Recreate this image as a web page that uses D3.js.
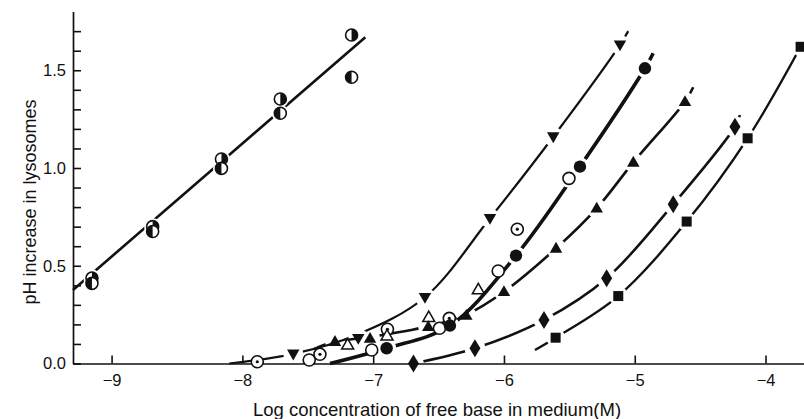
<!DOCTYPE html>
<html><head><meta charset="utf-8">
<script src="https://cdn.jsdelivr.net/npm/d3@7"></script>
<style>body{margin:0;background:#fff} svg{display:block}</style>
</head><body>
<svg id="c" width="804" height="419"></svg>
<script>
// ---- data ----
const xTickValues = [-9, -8, -7, -6, -5, -4];
const xTickLabels = ["\u22129", "\u22128", "\u22127", "\u22126", "\u22125", "\u22124"];
const yTickValues = [0, 0.1, 0.2, 0.3, 0.4, 0.5, 0.6, 0.7, 0.8, 0.9, 1.0, 1.1, 1.2, 1.3, 1.4, 1.5, 1.6, 1.7];
const yTickLabels = {"0": "0.0", "0.5": "0.5", "1": "1.0", "1.5": "1.5"};

// half-filled circles (two sets)
const halfRightX = [-9.15, -8.686, -8.16, -7.71, -7.165];
const halfRightY = [0.437, 0.70, 1.046, 1.353, 1.68];
const halfLeftX  = [-9.15, -8.686, -8.16, -7.71, -7.165];
const halfLeftY  = [0.41, 0.675, 0.998, 1.28, 1.464];
const halfLine   = [[-9.295, 0.376], [-7.06, 1.669]];

// inverted filled triangles
const triDownX = [-7.611, -7.114, -6.604, -6.107, -5.623, -5.113];
const triDownY = [0.049, 0.129, 0.339, 0.743, 1.160, 1.630];
const triDownCurve = [[-8.1, 0.0], [-7.611, 0.049], [-7.114, 0.15], [-6.604, 0.339], [-6.107, 0.743], [-5.623, 1.160], [-5.113, 1.630], [-5.05, 1.70]];

// filled circles
const dotX = [-6.897, -6.413, -5.908, -5.419, -4.922];
const dotY = [0.078, 0.194, 0.552, 1.007, 1.510];
const dotCurve = [[-7.33, 0.0], [-6.897, 0.078], [-6.413, 0.194], [-5.908, 0.552], [-5.419, 1.007], [-4.922, 1.510], [-4.859, 1.587]];

// open circles
const openX = [-7.489, -7.011, -6.493, -6.044, -5.503];
const openY = [0.018, 0.069, 0.180, 0.473, 0.947];

// dotted circles
const dottedX = [-7.886, -7.407, -6.891, -6.418, -5.898];
const dottedY = [0.009, 0.047, 0.175, 0.231, 0.687];

// open triangles
const triOpenX = [-7.195, -6.894, -6.575, -6.196];
const triOpenY = [0.095, 0.141, 0.236, 0.378];

// filled triangles
const triX = [-7.292, -7.024, -6.579, -6.288, -6.0, -5.602, -5.291, -5.011, -4.616];
const triY = [0.112, 0.128, 0.188, 0.246, 0.367, 0.589, 0.794, 1.029, 1.339];
const triCurve = [[-7.45, 0.075], [-7.292, 0.112], [-7.024, 0.135], [-6.579, 0.19], [-6.288, 0.25], [-6.0, 0.367], [-5.602, 0.589], [-5.291, 0.794], [-5.011, 1.029], [-4.616, 1.339], [-4.553, 1.413]];

// diamonds
const diaX = [-6.692, -6.222, -5.694, -5.215, -4.706, -4.234];
const diaY = [0.0, 0.078, 0.223, 0.436, 0.814, 1.211];
const diaCurve = [[-6.692, 0.0], [-6.222, 0.078], [-5.694, 0.223], [-5.215, 0.436], [-4.706, 0.814], [-4.234, 1.211], [-4.196, 1.271]];

// squares
const sqX = [-5.605, -5.126, -4.603, -4.137, -3.732];
const sqY = [0.132, 0.345, 0.726, 1.152, 1.620];
const sqCurve = [[-5.763, 0.069], [-5.605, 0.132], [-5.126, 0.345], [-4.603, 0.726], [-4.137, 1.152], [-3.732, 1.620]];

const xTitle = "Log concentration of free base in medium(M)";
const yTitle = "pH increase in lysosomes";

// ---- drawing ----
const svg = d3.select("#c");
const FONT = "'Liberation Sans', Arial, sans-serif";
const x = d3.scaleLinear().domain([-9.295, -3.706]).range([73, 804]);
const y = d3.scaleLinear().domain([0, 1.8]).range([363.5, 11.6]);
const zip = (a, b) => a.map((v, i) => [v, b[i]]);

const defs = svg.append("defs");
function makeMask(id, pts, r) {
  const m = defs.append("mask").attr("id", id).attr("maskUnits", "userSpaceOnUse")
    .attr("x", 0).attr("y", 0).attr("width", 804).attr("height", 419);
  m.append("rect").attr("width", 804).attr("height", 419).attr("fill", "#fff");
  m.selectAll("circle").data(pts).join("circle")
    .attr("cx", d => x(d[0])).attr("cy", d => y(d[1])).attr("r", r).attr("fill", "#000");
  return "url(#" + id + ")";
}

// axes
const xAxis = d3.axisBottom(x).tickValues(xTickValues).tickSize(-8).tickSizeOuter(0).tickPadding(11)
  .tickFormat((d, i) => xTickLabels[i]);
const gx = svg.append("g").attr("transform", `translate(0,${y(0)})`).call(xAxis);
const yAxis = d3.axisLeft(y).tickValues(yTickValues).tickSize(-8).tickSizeOuter(0).tickPadding(7)
  .tickFormat(d => yTickLabels[String(+d.toFixed(1))] || "");
const gy = svg.append("g").attr("transform", `translate(${x(-9.295)},0)`).call(yAxis);
[gx, gy].forEach(g => {
  g.select(".domain").attr("stroke", "#111").attr("stroke-width", 1.7);
  g.selectAll(".tick line").attr("stroke", "#111").attr("stroke-width", 1.6);
  g.selectAll(".tick text").attr("fill", "#111").style("font-family", FONT).style("font-size", "16.5px");
});

// curves
const line = d3.line().x(d => x(d[0])).y(d => y(d[1])).curve(d3.curveCatmullRom.alpha(0.5));
const curves = [
  {pts: halfLine, w: 2.6, mask: zip(halfRightX, halfRightY).concat(zip(halfLeftX, halfLeftY)), r: 8.5},
  {pts: triDownCurve, w: 2.2, mask: zip(triDownX, triDownY), r: 10},
  {pts: dotCurve, w: 3.6, mask: zip(dotX, dotY).concat(zip(openX, openY).slice(4)), r: 9.5},
  {pts: triCurve, w: 2.6, mask: zip(triX, triY), r: 10},
  {pts: diaCurve, w: 2.5, mask: zip(diaX, diaY), r: 10.5},
  {pts: sqCurve, w: 2.4, mask: zip(sqX, sqY), r: 9.5}
];
curves.forEach((c, i) => {
  svg.append("path").attr("d", line(c.pts)).attr("fill", "none").attr("stroke", "#111")
    .attr("stroke-width", c.w).attr("stroke-linecap", "butt")
    .attr("mask", makeMask("m" + i, c.mask, c.r));
});

// markers
const K = "#111";
function halfCircle(g, px, py, side) {
  const r = 6;
  g.append("circle").attr("cx", px).attr("cy", py).attr("r", r).attr("fill", "#fff").attr("stroke", K).attr("stroke-width", 1.6);
  const sweep = side === "right" ? 1 : 0;
  g.append("path").attr("d", `M${px},${py - r} A${r},${r} 0 0 ${sweep} ${px},${py + r} Z`).attr("fill", K);
}
const gm = svg.append("g");
zip(halfRightX, halfRightY).forEach(d => halfCircle(gm, x(d[0]), y(d[1]), "right"));
zip(halfLeftX, halfLeftY).forEach(d => halfCircle(gm, x(d[0]), y(d[1]), "left"));

zip(openX, openY).forEach(d => gm.append("circle").attr("cx", x(d[0])).attr("cy", y(d[1])).attr("r", 6)
  .attr("fill", "#fff").attr("stroke", K).attr("stroke-width", 1.6));
zip(dottedX, dottedY).forEach(d => {
  gm.append("circle").attr("cx", x(d[0])).attr("cy", y(d[1])).attr("r", 6).attr("fill", "#fff").attr("stroke", K).attr("stroke-width", 1.6);
  gm.append("circle").attr("cx", x(d[0])).attr("cy", y(d[1])).attr("r", 1.6).attr("fill", K);
});
zip(dotX, dotY).forEach(d => gm.append("circle").attr("cx", x(d[0])).attr("cy", y(d[1])).attr("r", 6.2).attr("fill", K));

const tri = (px, py, s, down) => {
  const h = s * 0.87, k = down ? -1 : 1;
  return `M${px},${py - k * h * 0.6} L${px + s / 2},${py + k * h * 0.4} L${px - s / 2},${py + k * h * 0.4} Z`;
};
zip(triOpenX, triOpenY).forEach(d => gm.append("path").attr("d", tri(x(d[0]), y(d[1]), 12, false))
  .attr("fill", "#fff").attr("stroke", K).attr("stroke-width", 1.5));
zip(triX, triY).forEach(d => gm.append("path").attr("d", tri(x(d[0]), y(d[1]), 12.5, false)).attr("fill", K));
zip(triDownX, triDownY).forEach(d => gm.append("path").attr("d", tri(x(d[0]), y(d[1]), 12.5, true)).attr("fill", K));
zip(diaX, diaY).forEach(d => {
  const px = x(d[0]), py = y(d[1]);
  gm.append("path").attr("d", `M${px},${py - 9} L${px + 5.5},${py} L${px},${py + 9} L${px - 5.5},${py} Z`).attr("fill", K);
});
zip(sqX, sqY).forEach(d => gm.append("rect").attr("x", x(d[0]) - 5).attr("y", y(d[1]) - 5)
  .attr("width", 10).attr("height", 10).attr("fill", K));

// titles
svg.append("text").attr("x", 437).attr("y", 416).attr("text-anchor", "middle")
  .style("font-family", FONT).style("font-size", "18.5px").attr("fill", "#111").text(xTitle);
svg.append("text").attr("transform", "translate(36,202) rotate(-90)").attr("text-anchor", "middle")
  .style("font-family", FONT).style("font-size", "18px").attr("fill", "#111").text(yTitle);
</script>
</body></html>
